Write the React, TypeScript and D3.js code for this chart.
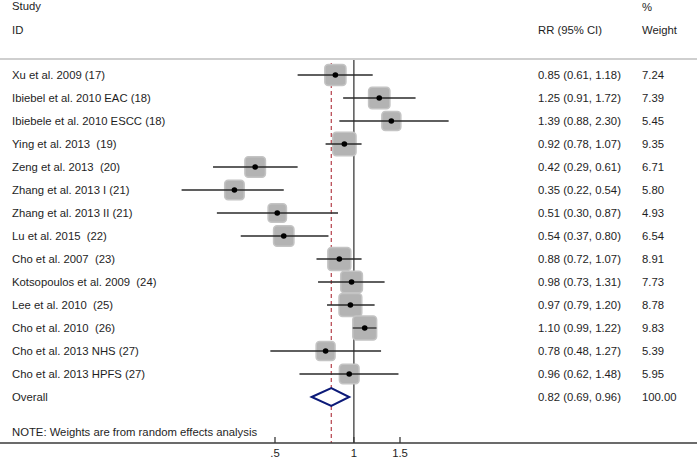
import React from "react";
import * as d3 from "d3";

const studies = [
  "Xu et al. 2009 (17)",
  "Ibiebel et al. 2010 EAC (18)",
  "Ibiebele et al. 2010 ESCC (18)",
  "Ying et al. 2013  (19)",
  "Zeng et al. 2013  (20)",
  "Zhang et al. 2013 I (21)",
  "Zhang et al. 2013 II (21)",
  "Lu et al. 2015  (22)",
  "Cho et al. 2007  (23)",
  "Kotsopoulos et al. 2009  (24)",
  "Lee et al. 2010  (25)",
  "Cho et al. 2010  (26)",
  "Cho et al. 2013 NHS (27)",
  "Cho et al. 2013 HPFS (27)",
];
const rr = [0.85, 1.25, 1.39, 0.92, 0.42, 0.35, 0.51, 0.54, 0.88, 0.98, 0.97, 1.1, 0.78, 0.96];
const lower = [0.61, 0.91, 0.88, 0.78, 0.29, 0.22, 0.3, 0.37, 0.72, 0.73, 0.79, 0.99, 0.48, 0.62];
const upper = [1.18, 1.72, 2.3, 1.07, 0.61, 0.54, 0.87, 0.8, 1.07, 1.31, 1.2, 1.22, 1.27, 1.48];
const weights = ["7.24", "7.39", "5.45", "9.35", "6.71", "5.80", "4.93", "6.54", "8.91", "7.73", "8.78", "9.83", "5.39", "5.95"];
const overall = { label: "Overall", rr: 0.82, lo: 0.69, hi: 0.96, weight: "100.00" };
const ticks = [0.5, 1, 1.5];
const tickLabels = [".5", "1", "1.5"];

const W = 697;
const H = 459;
const FONT = "'Liberation Sans', Arial, sans-serif";
const FS = 11.3;
const TXT = "#1e1e1e";

export default function App() {
  const x = d3.scaleLog().domain([0.5, 1.5]).range([275, 400]);
  const y = d3.scaleLinear().domain([0, 14]).range([75, 397]);
  const fmt = d3.format(".2f");
  const axisY = 443;
  const topY = 59;
  const boxSize = (w: number) => 5 + 6 * Math.sqrt(w);

  return (
    <svg
      width={W}
      height={H}
      style={{ position: "absolute", left: 0, top: 0, display: "block", background: "#fff", whiteSpace: "pre" }}
      fontFamily={FONT}
      fontSize={FS}
    >
      {/* headers */}
      <text x={12} y={10} fill={TXT}>Study</text>
      <text x={12} y={34} fill={TXT}>ID</text>
      <text x={538} y={34} fill={TXT}>RR (95% CI)</text>
      <text x={642} y={11} fill={TXT}>%</text>
      <text x={642} y={34} fill={TXT}>Weight</text>
      <line x1={0} x2={W} y1={topY} y2={topY} stroke="#cfcfcf" strokeWidth={2} />

      {/* null line */}
      <line x1={x(1)} x2={x(1)} y1={topY + 1} y2={axisY} stroke="#4a4a4a" strokeWidth={1.4} />
      {/* overall dashed line */}
      <line
        x1={x(overall.rr)}
        x2={x(overall.rr)}
        y1={topY + 4}
        y2={axisY}
        stroke="#b5404a"
        strokeWidth={1.2}
        strokeDasharray="4,3"
      />

      {/* boxes */}
      {rr.map((v, i) => {
        const s = boxSize(+weights[i]);
        return (
          <rect
            key={"b" + i}
            x={x(v) - s / 2}
            y={y(i) - s / 2}
            width={s}
            height={s}
            rx={3.5}
            fill="#b3b3b3"
            stroke="#c4c4c4"
            strokeWidth={1.5}
          />
        );
      })}
      {/* CIs */}
      {rr.map((v, i) => (
        <line
          key={"c" + i}
          x1={x(lower[i])}
          x2={x(upper[i])}
          y1={y(i)}
          y2={y(i)}
          stroke="#2a2a2a"
          strokeWidth={1.3}
        />
      ))}
      {rr.map((v, i) => (
        <circle key={"p" + i} cx={x(v)} cy={y(i)} r={2.8} fill="#000" />
      ))}

      {/* overall diamond */}
      <path
        d={`M${x(overall.lo)},${y(14)} L${x(overall.rr)},${y(14) - 9} L${x(overall.hi)},${y(14)} L${x(overall.rr)},${y(14) + 9} Z`}
        fill="#fff"
        stroke="#0c1a78"
        strokeWidth={2}
      />

      {/* labels */}
      {studies.map((s, i) => (
        <text key={"l" + i} x={12} y={y(i) + 4} fill={TXT} xmlSpace="preserve">{s}</text>
      ))}
      {rr.map((v, i) => (
        <text key={"r" + i} x={538} y={y(i) + 4} fill={TXT}>
          {`${fmt(v)} (${fmt(lower[i])}, ${fmt(upper[i])})`}
        </text>
      ))}
      {weights.map((w, i) => (
        <text key={"w" + i} x={642} y={y(i) + 4} fill={TXT}>{w}</text>
      ))}
      <text x={12} y={y(14) + 4} fill={TXT}>{overall.label}</text>
      <text x={538} y={y(14) + 4} fill={TXT}>
        {`${fmt(overall.rr)} (${fmt(overall.lo)}, ${fmt(overall.hi)})`}
      </text>
      <text x={642} y={y(14) + 4} fill={TXT}>{overall.weight}</text>

      <text x={12} y={436} fill={TXT}>NOTE: Weights are from random effects analysis</text>

      {/* axis */}
      <line x1={0} x2={W} y1={axisY} y2={axisY} stroke="#3a3a3a" strokeWidth={1.5} />
      {ticks.map((t, i) => (
        <g key={"t" + i}>
          <line x1={x(t)} x2={x(t)} y1={axisY} y2={axisY - 6} stroke="#3a3a3a" strokeWidth={1.3} />
          <text x={x(t)} y={457} textAnchor="middle" fill={TXT}>{tickLabels[i]}</text>
        </g>
      ))}
    </svg>
  );
}
